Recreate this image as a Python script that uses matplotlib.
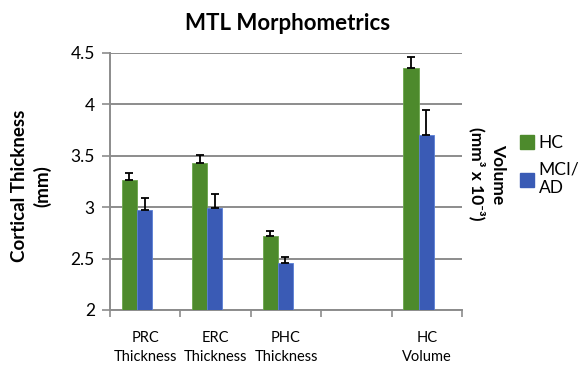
import numpy as np
import matplotlib
matplotlib.use("Agg")
import matplotlib.pyplot as plt
from matplotlib.lines import Line2D

plt.rcParams['font.family'] = ['Lato', 'DejaVu Sans']

categories = ["PRC\nThickness", "ERC\nThickness", "PHC\nThickness", "", "HC\nVolume"]
hc_values = [3.26, 3.43, 2.72, np.nan, 4.35]
hc_errors = [0.075, 0.08, 0.045, np.nan, 0.11]
mci_values = [2.97, 2.99, 2.46, np.nan, 3.70]
mci_errors = [0.12, 0.14, 0.06, np.nan, 0.245]
y_ticks = [2, 2.5, 3, 3.5, 4, 4.5]
y_tick_labels = ["2", "2.5", "3", "3.5", "4", "4.5"]

GREEN = "#4D8A2C"
BLUE = "#3A5BB5"
GRID = "#8c8c8c"

fig = plt.figure(figsize=(5.83, 3.65), dpi=100)
ax = fig.add_axes([0.1887, 0.1507, 0.6038, 0.7041])

x = np.arange(len(categories))
hc = np.array(hc_values)
mci = np.array(mci_values)
mask = ~np.isnan(hc)
width = 0.215
x_hc = x - 0.225
x_mci = x - 0.01

ax.bar(x_hc[mask], hc[mask] - 2, width, bottom=2, color=GREEN, zorder=3,
       edgecolor="#6aa64a", linewidth=0.6)
ax.bar(x_mci[mask], mci[mask] - 2, width, bottom=2, color=BLUE, zorder=3,
       edgecolor="#5a7fd6", linewidth=0.6)

hc_err = np.array(hc_errors)[mask]
mci_err = np.array(mci_errors)[mask]
ax.errorbar(x_hc[mask], hc[mask], yerr=[np.zeros_like(hc_err), hc_err],
            fmt="none", ecolor="black", elinewidth=1.3, capsize=3, capthick=1.3, zorder=4)
ax.errorbar(x_mci[mask], mci[mask], yerr=[np.zeros_like(mci_err), mci_err],
            fmt="none", ecolor="black", elinewidth=1.3, capsize=3, capthick=1.3, zorder=4)

ax.set_xlim(-0.5, len(categories) - 0.5)
ax.set_ylim(2, 4.5)
ax.set_yticks(y_ticks)
ax.set_yticklabels(y_tick_labels, fontsize=12.5)
ax.yaxis.grid(True, color=GRID, linewidth=1.4, zorder=0)
ax.set_axisbelow(True)

# category labels centred, tick marks at category boundaries
ax.set_xticks(x)
ax.set_xticklabels(categories, fontsize=10.5, linespacing=1.45)
ax.tick_params(axis="x", length=0, pad=15)
ax.set_xticks(np.arange(len(categories) + 1) - 0.5, minor=True)
ax.tick_params(axis="x", which="minor", length=5, width=1.2, color=GRID, direction="out")
ax.tick_params(axis="y", length=6, width=1.2, color=GRID, direction="out", pad=5)

for side in ("top", "right"):
    ax.spines[side].set_visible(False)
for side in ("left", "bottom"):
    ax.spines[side].set_color(GRID)
    ax.spines[side].set_linewidth(1.4)

fig.text(0.493, 0.935, "MTL Morphometrics", ha="center", va="center",
         fontsize=16, fontweight="bold")
fig.text(0.053, 0.49, "Cortical Thickness\n(mm)", ha="center", va="center",
         rotation=90, fontsize=13.5, fontweight="bold", linespacing=1.35)
fig.text(0.836, 0.523, "Volume\n(mm³ x 10⁻³)", ha="center", va="center",
         rotation=270, fontsize=12.5, fontweight="bold", linespacing=1.3)

handles = [Line2D([], [], marker="s", linestyle="none", color=GREEN, markersize=10),
           Line2D([], [], marker="s", linestyle="none", color=BLUE, markersize=10)]
leg = fig.legend(handles, ["HC", "MCI/\nAD"], loc="upper left",
                 bbox_to_anchor=(0.878, 0.655), frameon=False, fontsize=12.5,
                 handlelength=0.8, handletextpad=0.25, labelspacing=0.65, borderpad=0)
for t in leg.get_texts():
    t.set_linespacing(1.2)

fig.savefig("out.png", dpi=100)
